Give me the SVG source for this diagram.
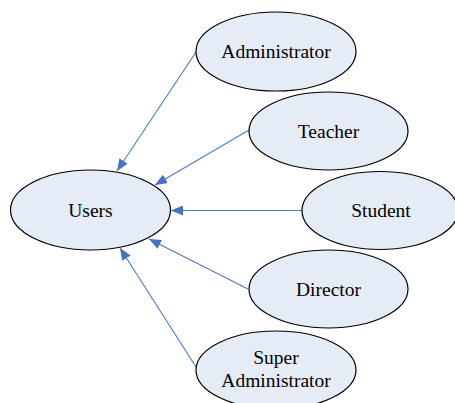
<svg xmlns="http://www.w3.org/2000/svg" width="455" height="403" viewBox="0 0 455 403">
  <style>
    .node ellipse { fill: #E6ECF6; stroke: #000000; stroke-width: 1.2; }
    .node text { font-family: 'Liberation Serif', 'Times New Roman', 'DejaVu Serif', serif; font-size: 19.5px; fill: #000000; text-anchor: middle; }
    .edge { stroke: #4A7BC8; stroke-width: 1.1; fill: none; marker-end: url(#arrow); }
  </style>
  <defs>
    <marker id="arrow" viewBox="0 0 12 10" refX="12" refY="5" markerWidth="12" markerHeight="10" markerUnits="userSpaceOnUse" orient="auto">
      <path d="M0,0 L12,5 L0,10 Z" fill="#4472C4"/>
    </marker>
  </defs>
  <rect width="455" height="403" fill="#FFFFFF"/>

  <!-- connectors: each role points to Users -->
  <g id="connectors">
    <line class="edge" x1="196" y1="52" x2="117" y2="171"/>
    <line class="edge" x1="249" y1="130" x2="155" y2="185"/>
    <line class="edge" x1="302" y1="210.5" x2="171" y2="210.5"/>
    <line class="edge" x1="248" y1="289" x2="149" y2="239"/>
    <line class="edge" x1="196" y1="367" x2="120" y2="248"/>
  </g>

  <g id="users" class="node">
    <ellipse cx="90.5" cy="210" rx="80" ry="40"/>
    <text x="90.5" y="217">Users</text>
  </g>
  <g id="administrator" class="node">
    <ellipse cx="276" cy="51.5" rx="80" ry="39.5"/>
    <text x="276" y="58">Administrator</text>
  </g>
  <g id="teacher" class="node">
    <ellipse cx="328.5" cy="131" rx="79.5" ry="39"/>
    <text x="328.5" y="137.5">Teacher</text>
  </g>
  <g id="student" class="node">
    <ellipse cx="380" cy="210.5" rx="78" ry="39"/>
    <text x="381" y="217">Student</text>
  </g>
  <g id="director" class="node">
    <ellipse cx="328.5" cy="289" rx="79.5" ry="39"/>
    <text x="328.5" y="295.5">Director</text>
  </g>
  <g id="super-administrator" class="node">
    <ellipse cx="276" cy="370" rx="80" ry="39"/>
    <text x="276" y="363.5">Super</text>
    <text x="276" y="386.5">Administrator</text>
  </g>
</svg>
